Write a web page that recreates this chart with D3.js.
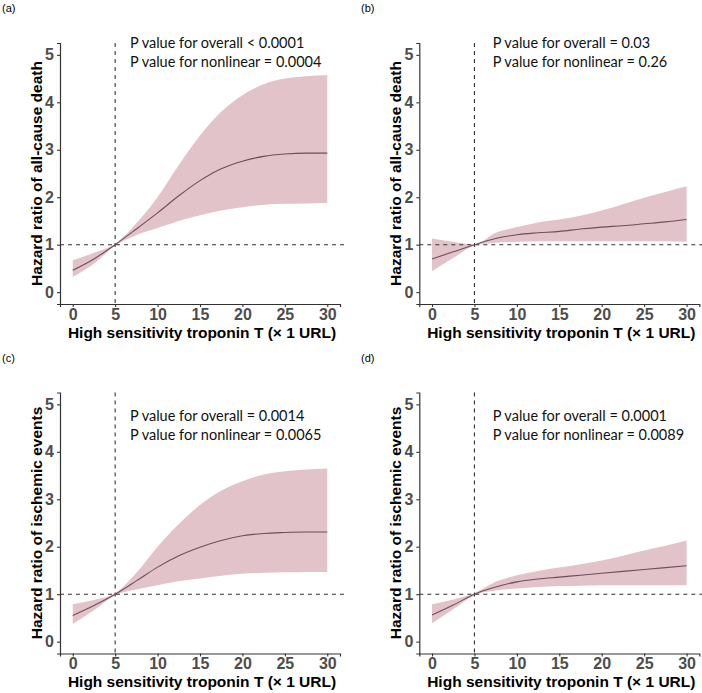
<!DOCTYPE html>
<html>
<head>
<meta charset="utf-8">
<script src="https://cdnjs.cloudflare.com/ajax/libs/d3/7.8.5/d3.min.js"></script>
<style>
body { margin: 0; background: #fff; }
.tick text { font-family: "Liberation Sans", Arial, sans-serif; font-weight: bold; fill: #4d4d4d; }
</style>
</head>
<body>
<svg width="702" height="693"></svg>
<script>
// x positions (hs-TnT, x 1 URL)
var xs = [0, 2.5, 5, 7.5, 10, 12.5, 15, 17.5, 20, 22.5, 25, 27.5, 30];

// (a) all-cause death
var fitA = [0.46, 0.70, 1.00, 1.33, 1.67, 2.03, 2.35, 2.60, 2.76, 2.86, 2.91, 2.93, 2.93];
var upA  = [0.67, 0.83, 1.02, 1.45, 2.00, 2.68, 3.30, 3.80, 4.15, 4.38, 4.50, 4.55, 4.57];
var loA  = [0.32, 0.60, 0.98, 1.20, 1.35, 1.50, 1.62, 1.72, 1.79, 1.84, 1.86, 1.87, 1.88];
// (b) all-cause death
var fitB = [0.70, 0.85, 1.00, 1.13, 1.21, 1.25, 1.28, 1.33, 1.37, 1.40, 1.44, 1.48, 1.53];
var upB  = [1.13, 1.06, 1.00, 1.25, 1.37, 1.47, 1.53, 1.61, 1.72, 1.85, 1.99, 2.11, 2.23];
var loB  = [0.44, 0.72, 0.98, 1.04, 1.06, 1.07, 1.07, 1.07, 1.07, 1.07, 1.07, 1.07, 1.06];
// (c) ischemic events
var fitC = [0.55, 0.76, 1.00, 1.28, 1.57, 1.81, 1.99, 2.13, 2.23, 2.28, 2.30, 2.31, 2.31];
var upC  = [0.79, 0.88, 1.02, 1.45, 2.00, 2.48, 2.88, 3.18, 3.38, 3.52, 3.59, 3.63, 3.65];
var loC  = [0.37, 0.66, 0.98, 1.10, 1.19, 1.27, 1.33, 1.39, 1.43, 1.45, 1.46, 1.47, 1.47];
// (d) ischemic events
var fitD = [0.56, 0.77, 1.00, 1.15, 1.26, 1.32, 1.36, 1.40, 1.44, 1.48, 1.52, 1.56, 1.60];
var upD  = [0.79, 0.89, 1.02, 1.26, 1.40, 1.49, 1.56, 1.63, 1.71, 1.81, 1.92, 2.02, 2.13];
var loD  = [0.39, 0.68, 0.98, 1.08, 1.12, 1.15, 1.17, 1.18, 1.19, 1.19, 1.19, 1.19, 1.19];

var xTicks = [0, 5, 10, 15, 20, 25, 30];
var yTicks = [0, 1, 2, 3, 4, 5];
var panelLabels = ["(a)", "(b)", "(c)", "(d)"];
var yTitles = ["Hazard ratio of all-cause death", "Hazard ratio of all-cause death",
               "Hazard ratio of ischemic events", "Hazard ratio of ischemic events"];
var pOverall = ["P value for overall < 0.0001", "P value for overall = 0.03",
                "P value for overall = 0.0014", "P value for overall = 0.0001"];
var pNonlinear = ["P value for nonlinear = 0.0004", "P value for nonlinear = 0.26",
                  "P value for nonlinear = 0.0065", "P value for nonlinear = 0.0089"];
var xTitle = "High sensitivity troponin T (\u00d7 1 URL)";
var refX = 5, refY = 1;

var fits = [fitA, fitB, fitC, fitD];
var ups = [upA, upB, upC, upD];
var los = [loA, loB, loC, loD];

var svg = d3.select("svg");

// panel placement: left of the y axis line, top of the plot area
var origins = [[60, 43], [419.3, 43], [60, 392.5], [419.3, 392.5]];
var W = 280, H = 261;

origins.forEach(function(o, i) {
  var g = svg.append("g").attr("transform", "translate(" + o[0] + "," + o[1] + ")");
  var x = d3.scaleLinear().domain([-1.5, 31.5]).range([0, W]);
  var y = d3.scaleLinear().domain([-0.25, 5.25]).range([H, 0]);

  var rows = xs.map(function(v, k) {
    return { x: v, fit: fits[i][k], up: ups[i][k], lo: los[i][k] };
  });

  // confidence band
  g.append("path")
    .datum(rows)
    .attr("fill", "#e3c3ca")
    .attr("d", d3.area()
      .curve(d3.curveMonotoneX)
      .x(function(d) { return x(d.x); })
      .y0(function(d) { return y(d.lo); })
      .y1(function(d) { return y(d.up); }));

  // reference lines
  g.append("line")
    .attr("x1", 0).attr("x2", W + 8)
    .attr("y1", y(refY)).attr("y2", y(refY))
    .attr("stroke", "#333").attr("stroke-width", 1.1)
    .attr("stroke-dasharray", "4,4");
  g.append("line")
    .attr("x1", x(refX)).attr("x2", x(refX))
    .attr("y1", 0).attr("y2", H)
    .attr("stroke", "#333").attr("stroke-width", 1.1)
    .attr("stroke-dasharray", "4,4");

  // fitted hazard ratio
  g.append("path")
    .datum(rows)
    .attr("fill", "none")
    .attr("stroke", "#6b4f5a")
    .attr("stroke-width", 1.1)
    .attr("d", d3.line()
      .curve(d3.curveMonotoneX)
      .x(function(d) { return x(d.x); })
      .y(function(d) { return y(d.fit); }));

  // axes
  var xa = g.append("g")
    .attr("transform", "translate(0," + H + ")")
    .call(d3.axisBottom(x).tickValues(xTicks).tickFormat(d3.format("d")).tickSize(3).tickPadding(1.5));
  var ya = g.append("g")
    .call(d3.axisLeft(y).tickValues(yTicks).tickFormat(d3.format("d")).tickSize(3).tickPadding(3));
  [xa, ya].forEach(function(a) {
    a.select(".domain").attr("stroke", "#333").attr("stroke-width", 1.2);
    a.selectAll(".tick line").attr("stroke", "#333").attr("stroke-width", 1.1);
    a.selectAll(".tick text").style("font-size", "16px");
  });

  // axis titles
  g.append("text")
    .attr("x", W / 2 + 2)
    .attr("y", H + 33.5)
    .attr("text-anchor", "middle")
    .style("font", "bold 15.5px 'Liberation Sans', Arial, sans-serif")
    .text(xTitle);
  g.append("text")
    .attr("transform", "translate(-18," + (H / 2) + ") rotate(-90)")
    .attr("text-anchor", "middle")
    .style("font", "bold 15.5px 'Liberation Sans', Arial, sans-serif")
    .text(yTitles[i]);

  // p values
  var tx = i % 2 === 0 ? 70 : 73.4;
  var ty = i < 2 ? 4.5 : 28.5;
  g.append("text")
    .attr("x", tx).attr("y", ty)
    .style("font", "14.5px Lato, sans-serif").attr("fill", "#111")
    .text(pOverall[i]);
  g.append("text")
    .attr("x", tx).attr("y", ty + 19)
    .style("font", "14.5px Lato, sans-serif").attr("fill", "#111")
    .text(pNonlinear[i]);

  // panel tag
  g.append("text")
    .attr("x", i % 2 === 0 ? -58 : -58.3)
    .attr("y", -31)
    .style("font", "11px 'Liberation Sans', Arial, sans-serif")
    .text(panelLabels[i]);
});
</script>
</body>
</html>
